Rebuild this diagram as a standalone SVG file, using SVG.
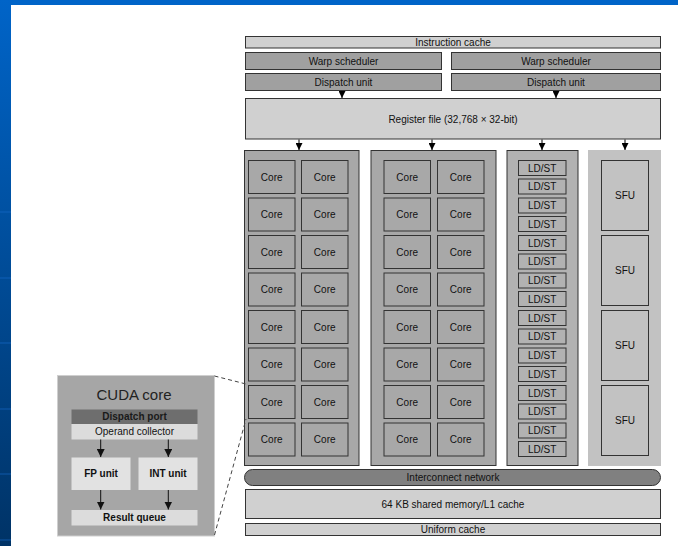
<svg xmlns="http://www.w3.org/2000/svg" width="678" height="546" viewBox="0 0 678 546">
<defs>
<linearGradient id="bg" x1="0" y1="0" x2="0" y2="1">
<stop offset="0" stop-color="#0064c8"/>
<stop offset="1" stop-color="#003366"/>
</linearGradient>
<marker id="ah" viewBox="0 0 10 10" refX="10" refY="5" markerWidth="7" markerHeight="7" markerUnits="userSpaceOnUse" orient="auto">
<path d="M0,0 L10,5 L0,10 z" fill="#000"/>
</marker>
<marker id="ah2" viewBox="0 0 10 10" refX="10" refY="5" markerWidth="8" markerHeight="8" markerUnits="userSpaceOnUse" orient="auto">
<path d="M0,0 L10,5 L0,10 z" fill="#111"/>
</marker>
</defs>
<style>
text{font-family:"Liberation Sans",Arial,sans-serif;font-size:10px;fill:#111;text-anchor:middle;dominant-baseline:central}
.b{font-weight:bold}
.bar{stroke:#333;stroke-width:1}
.lt{fill:#d0d0d0}
.dk{fill:#a0a0a0}
.cl{fill:#a8a8a8;stroke:#333;stroke-width:1}
.core{fill:#a8a8a8;stroke:#333;stroke-width:1}
.ld{fill:#b2b2b2;stroke:#333;stroke-width:1}
.sfu{fill:#c2c2c2;stroke:#333;stroke-width:1}
.con{stroke:#000;stroke-width:1;fill:none;marker-end:url(#ah)}
.dash{stroke:#444;stroke-width:1;stroke-dasharray:4,3;fill:none}
</style>
<rect width="678" height="546" fill="#fff"/>
<rect x="0" y="0" width="678" height="5" fill="#0064c8"/>
<rect x="0" y="0" width="11" height="546" fill="url(#bg)"/>
<g stroke="#1a6fd0" stroke-width="1" opacity="0.6">
<line x1="0" y1="212" x2="11" y2="212"/>
<line x1="0" y1="278" x2="11" y2="278"/>
<line x1="0" y1="343" x2="11" y2="343"/>
<line x1="0" y1="409" x2="11" y2="409"/>
<line x1="0" y1="474" x2="11" y2="474"/>
<line x1="0" y1="540" x2="11" y2="540"/>
</g>

<g id="instruction-cache"><rect class="bar lt" x="245.5" y="36.5" width="415" height="11.5"/><text x="453" y="42.3">Instruction cache</text></g>
<g id="warp-scheduler-1"><rect class="bar dk" x="245.5" y="52.5" width="196" height="17"/><text x="343.5" y="61">Warp scheduler</text></g>
<g id="warp-scheduler-2"><rect class="bar dk" x="451.5" y="52.5" width="209" height="17"/><text x="556" y="61">Warp scheduler</text></g>
<g id="dispatch-unit-1"><rect class="bar dk" x="245.5" y="73.5" width="196" height="17"/><text x="343.5" y="82">Dispatch unit</text></g>
<g id="dispatch-unit-2"><rect class="bar dk" x="451.5" y="73.5" width="209" height="17"/><text x="556" y="82">Dispatch unit</text></g>
<g id="register-file"><rect class="bar lt" x="245.5" y="98.5" width="415" height="40.5"/><text x="453" y="119">Register file (32,768 × 32-bit)</text></g>

<g id="core-cluster-1">
<rect class="cl" x="244.5" y="150.5" width="114.5" height="315"/>
<g id="cores-1">
<rect class="core" x="248.5" y="160.5" width="46.5" height="33"/><rect class="core" x="301.5" y="160.5" width="46.5" height="33"/>
<rect class="core" x="248.5" y="198" width="46.5" height="33"/><rect class="core" x="301.5" y="198" width="46.5" height="33"/>
<rect class="core" x="248.5" y="235.5" width="46.5" height="33"/><rect class="core" x="301.5" y="235.5" width="46.5" height="33"/>
<rect class="core" x="248.5" y="273" width="46.5" height="33"/><rect class="core" x="301.5" y="273" width="46.5" height="33"/>
<rect class="core" x="248.5" y="310.5" width="46.5" height="33"/><rect class="core" x="301.5" y="310.5" width="46.5" height="33"/>
<rect class="core" x="248.5" y="348" width="46.5" height="33"/><rect class="core" x="301.5" y="348" width="46.5" height="33"/>
<rect class="core" x="248.5" y="385.5" width="46.5" height="33"/><rect class="core" x="301.5" y="385.5" width="46.5" height="33"/>
<rect class="core" x="248.5" y="423" width="46.5" height="33"/><rect class="core" x="301.5" y="423" width="46.5" height="33"/>
</g>
<g>
<text x="271.7" y="177">Core</text><text x="324.7" y="177">Core</text>
<text x="271.7" y="214.5">Core</text><text x="324.7" y="214.5">Core</text>
<text x="271.7" y="252">Core</text><text x="324.7" y="252">Core</text>
<text x="271.7" y="289.5">Core</text><text x="324.7" y="289.5">Core</text>
<text x="271.7" y="327">Core</text><text x="324.7" y="327">Core</text>
<text x="271.7" y="364.5">Core</text><text x="324.7" y="364.5">Core</text>
<text x="271.7" y="402">Core</text><text x="324.7" y="402">Core</text>
<text x="271.7" y="439.5">Core</text><text x="324.7" y="439.5">Core</text>
</g>
</g>

<g id="core-cluster-2">
<rect class="cl" x="371" y="150.5" width="125" height="315"/>
<g>
<rect class="core" x="384" y="160.5" width="46.5" height="33"/><rect class="core" x="437.5" y="160.5" width="46.5" height="33"/>
<rect class="core" x="384" y="198" width="46.5" height="33"/><rect class="core" x="437.5" y="198" width="46.5" height="33"/>
<rect class="core" x="384" y="235.5" width="46.5" height="33"/><rect class="core" x="437.5" y="235.5" width="46.5" height="33"/>
<rect class="core" x="384" y="273" width="46.5" height="33"/><rect class="core" x="437.5" y="273" width="46.5" height="33"/>
<rect class="core" x="384" y="310.5" width="46.5" height="33"/><rect class="core" x="437.5" y="310.5" width="46.5" height="33"/>
<rect class="core" x="384" y="348" width="46.5" height="33"/><rect class="core" x="437.5" y="348" width="46.5" height="33"/>
<rect class="core" x="384" y="385.5" width="46.5" height="33"/><rect class="core" x="437.5" y="385.5" width="46.5" height="33"/>
<rect class="core" x="384" y="423" width="46.5" height="33"/><rect class="core" x="437.5" y="423" width="46.5" height="33"/>
</g>
<g>
<text x="407.2" y="177">Core</text><text x="460.7" y="177">Core</text>
<text x="407.2" y="214.5">Core</text><text x="460.7" y="214.5">Core</text>
<text x="407.2" y="252">Core</text><text x="460.7" y="252">Core</text>
<text x="407.2" y="289.5">Core</text><text x="460.7" y="289.5">Core</text>
<text x="407.2" y="327">Core</text><text x="460.7" y="327">Core</text>
<text x="407.2" y="364.5">Core</text><text x="460.7" y="364.5">Core</text>
<text x="407.2" y="402">Core</text><text x="460.7" y="402">Core</text>
<text x="407.2" y="439.5">Core</text><text x="460.7" y="439.5">Core</text>
</g>
</g>

<g id="ldst-cluster">
<rect class="ld" x="507" y="150.5" width="71" height="315"/>
<g>
<rect class="ld" x="518.5" y="160.5" width="47.5" height="15"/><rect class="ld" x="518.5" y="179" width="47.5" height="15"/>
<rect class="ld" x="518.5" y="198" width="47.5" height="15"/><rect class="ld" x="518.5" y="216.5" width="47.5" height="15"/>
<rect class="ld" x="518.5" y="235.5" width="47.5" height="15"/><rect class="ld" x="518.5" y="254" width="47.5" height="15"/>
<rect class="ld" x="518.5" y="273" width="47.5" height="15"/><rect class="ld" x="518.5" y="291.5" width="47.5" height="15"/>
<rect class="ld" x="518.5" y="310.5" width="47.5" height="15"/><rect class="ld" x="518.5" y="329" width="47.5" height="15"/>
<rect class="ld" x="518.5" y="348" width="47.5" height="15"/><rect class="ld" x="518.5" y="366.5" width="47.5" height="15"/>
<rect class="ld" x="518.5" y="385.5" width="47.5" height="15"/><rect class="ld" x="518.5" y="404" width="47.5" height="15"/>
<rect class="ld" x="518.5" y="423" width="47.5" height="15"/><rect class="ld" x="518.5" y="441.5" width="47.5" height="15"/>
</g>
<g>
<text x="542.2" y="168">LD/ST</text><text x="542.2" y="186.5">LD/ST</text>
<text x="542.2" y="205.5">LD/ST</text><text x="542.2" y="224">LD/ST</text>
<text x="542.2" y="243">LD/ST</text><text x="542.2" y="261.5">LD/ST</text>
<text x="542.2" y="280.5">LD/ST</text><text x="542.2" y="299">LD/ST</text>
<text x="542.2" y="318">LD/ST</text><text x="542.2" y="336.5">LD/ST</text>
<text x="542.2" y="355.5">LD/ST</text><text x="542.2" y="374">LD/ST</text>
<text x="542.2" y="393">LD/ST</text><text x="542.2" y="411.5">LD/ST</text>
<text x="542.2" y="430.5">LD/ST</text><text x="542.2" y="449">LD/ST</text>
</g>
</g>

<g id="sfu-cluster">
<rect x="588" y="150" width="73" height="316" fill="#c2c2c2"/>
<rect class="sfu" x="601.5" y="160.5" width="47" height="70"/>
<rect class="sfu" x="601.5" y="235.5" width="47" height="70"/>
<rect class="sfu" x="601.5" y="310.5" width="47" height="70"/>
<rect class="sfu" x="601.5" y="385.5" width="47" height="70"/>
<text x="625" y="195.5">SFU</text>
<text x="625" y="270.5">SFU</text>
<text x="625" y="345.5">SFU</text>
<text x="625" y="420.5">SFU</text>
</g>

<g id="interconnect-network"><rect x="244.5" y="469.5" width="416" height="16" rx="8" ry="8" fill="#808080" stroke="#333"/><text x="453" y="477.5">Interconnect network</text></g>
<g id="shared-memory"><rect class="bar lt" x="245.5" y="489.5" width="415" height="29"/><text x="453" y="504">64 KB shared memory/L1 cache</text></g>
<g id="uniform-cache"><rect class="bar lt" x="245.5" y="523.5" width="415" height="12"/><text x="453" y="529.5">Uniform cache</text></g>

<g id="cuda-core-inset">
<rect x="57.5" y="375.5" width="157" height="160.5" fill="#a6a6a6" stroke="#cfcfcf"/>
<text x="134" y="394.5" style="font-size:15px;fill:#222">CUDA core</text>
<rect x="71.5" y="409.5" width="126" height="14.5" fill="#6e6e6e"/>
<text class="b" x="134.5" y="416.7" style="fill:#1a1a1a">Dispatch port</text>
<rect x="71.5" y="424" width="126" height="15.5" fill="#dcdcdc"/>
<text x="134.5" y="431.7">Operand collector</text>
<rect x="71.5" y="457.5" width="59" height="32.5" fill="#e2e2e2"/>
<text class="b" x="101" y="473.7">FP unit</text>
<rect x="138.5" y="457.5" width="59" height="32.5" fill="#e2e2e2"/>
<text class="b" x="168" y="473.7">INT unit</text>
<rect x="71.5" y="510" width="126" height="15.5" fill="#dcdcdc"/>
<text class="b" x="134.5" y="517.7">Result queue</text>
</g>

<g id="connectors">
<line class="con" x1="342" y1="91" x2="342" y2="98"/>
<line class="con" x1="556" y1="91" x2="556" y2="98"/>
<line class="con" x1="299" y1="139.5" x2="299" y2="150"/>
<line class="con" x1="432" y1="139.5" x2="432" y2="150"/>
<line class="con" x1="542" y1="139.5" x2="542" y2="150"/>
<line class="con" x1="625" y1="139.5" x2="625" y2="150"/>
<line x1="100.7" y1="439.5" x2="100.7" y2="457" stroke="#111" marker-end="url(#ah2)"/>
<line x1="168.3" y1="439.5" x2="168.3" y2="457" stroke="#111" marker-end="url(#ah2)"/>
<line x1="100.7" y1="490" x2="100.7" y2="509.5" stroke="#111" marker-end="url(#ah2)"/>
<line x1="168.3" y1="490" x2="168.3" y2="509.5" stroke="#111" marker-end="url(#ah2)"/>
<line class="dash" x1="214.5" y1="376" x2="246" y2="384"/>
<line class="dash" x1="214.5" y1="535" x2="246" y2="419"/>
</g>
</svg>
